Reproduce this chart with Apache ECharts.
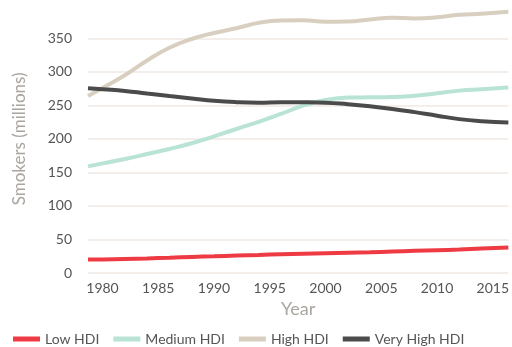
<!DOCTYPE html>
<html>
<head>
<meta charset="utf-8">
<script src="https://cdn.jsdelivr.net/npm/echarts@6/dist/echarts.min.js"></script>
<style>
  html, body { margin: 0; padding: 0; background: #fff; }
  #chart { width: 512px; height: 347px; }
</style>
</head>
<body>
<div id="chart"></div>
<script>
// Sample years (the series run slightly past the labelled range on both ends)
const years = [1978.7, 1980, 1982, 1984, 1986, 1988, 1990, 1992, 1994, 1996, 1998,
               2000, 2002, 2004, 2006, 2008, 2010, 2012, 2014, 2016.4];

// Smokers (millions) by HDI group
const lowHDI = [20, 20.3, 21, 21.8, 22.8, 24, 25, 26, 27, 28, 28.8,
                29.5, 30.2, 31, 32, 33, 34, 35, 36.4, 38];
const mediumHDI = [159, 163.5, 170, 177.5, 185, 193.5, 203.7, 214.8, 225.5, 237.2, 249.5,
                   258, 261.6, 262, 262.4, 264.5, 268, 272, 274, 276.5];
const highHDI = [264, 276, 295, 317, 336, 349, 358, 365, 373, 376.6, 377,
                 374.7, 375, 378, 380.7, 379.7, 381.3, 385, 386.8, 389.6];
const veryHighHDI = [275.5, 274, 271.6, 267.6, 263.9, 260.4, 256.9, 254.8, 254, 254.7, 254.6,
                     254, 251.7, 248.6, 244.7, 239.9, 234.6, 229.5, 226.4, 224.4];

const seriesNames = ['Low HDI', 'Medium HDI', 'High HDI', 'Very High HDI'];
const seriesColors = ['#ee3a43', '#b9e3d5', '#d9cfc0', '#4b4b4b'];
const xTickYears = [1980, 1985, 1990, 1995, 2000, 2005, 2010, 2015];

const pair = (vals) => years.map((y, i) => [y, vals[i]]);
const grid = '#efe9e3';

const chart = echarts.init(document.getElementById('chart'), null, { renderer: 'canvas' });
chart.setOption({
  animation: false,
  textStyle: { fontFamily: 'Lato' },
  grid: { left: 88, right: 3, top: 4.8, bottom: 74 },
  xAxis: {
    type: 'value',
    min: 1978.7,
    max: 2016.4,
    name: 'Year',
    nameLocation: 'middle',
    nameGap: 27,
    nameTextStyle: { color: '#aaa59f', fontSize: 18, fontFamily: 'Lato' },
    axisLine: { show: false },
    axisTick: { show: false },
    splitLine: { show: false },
    axisLabel: {
      customValues: xTickYears,
      color: '#555',
      fontSize: 14,
      margin: 8,
      formatter: (v) => String(v)
    }
  },
  yAxis: {
    type: 'value',
    min: 0,
    max: 400,
    interval: 50,
    name: 'Smokers (millions)',
    nameLocation: 'middle',
    nameRotate: 90,
    nameGap: 60,
    nameTextStyle: { color: '#aaa59f', fontSize: 17, fontFamily: 'Lato' },
    axisLine: { show: false },
    axisTick: { show: false },
    splitLine: {
      lineStyle: {
        // the top bound of the axis carries no rule
        color: [grid, grid, grid, grid, grid, grid, grid, grid, 'rgba(0,0,0,0)'],
        width: 1.5
      }
    },
    axisLabel: {
      color: '#555',
      fontSize: 14,
      margin: 16,
      formatter: (v) => (v === 400 ? '' : String(v))
    }
  },
  legend: {
    top: 327,
    left: 8,
    itemGap: 14,
    itemWidth: 27,
    itemHeight: 5,
    icon: 'rect',
    textStyle: { color: '#555', fontSize: 14, fontFamily: 'Lato' },
    data: seriesNames
  },
  series: [lowHDI, mediumHDI, highHDI, veryHighHDI].map((vals, i) => ({
    name: seriesNames[i],
    type: 'line',
    smooth: true,
    showSymbol: false,
    symbol: 'none',
    data: pair(vals),
    lineStyle: { color: seriesColors[i], width: 4 },
    itemStyle: { color: seriesColors[i] },
    z: i === 0 ? 5 : 2
  }))
});
</script>
</body>
</html>
